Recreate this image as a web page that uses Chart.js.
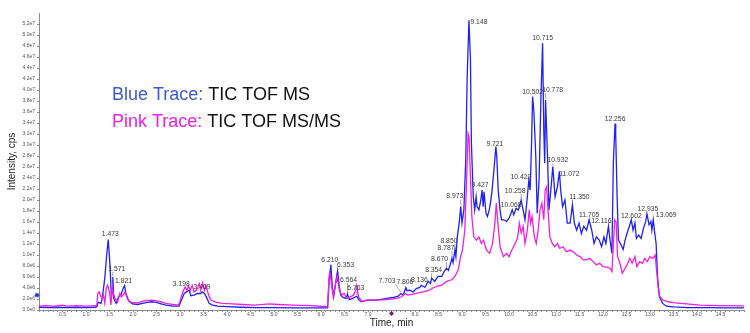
<!DOCTYPE html>
<html>
<head>
<meta charset="utf-8">
<title>TIC TOF MS</title>
<script src="https://cdn.jsdelivr.net/npm/chart.js@4.4.1/dist/chart.umd.min.js"></script>
<style>
  html, body { margin: 0; background: #fff; }
  #wrap { width: 750px; height: 333px; }
</style>
</head>
<body>
<div id="wrap"><canvas id="tic" width="750" height="333"></canvas></div>
<script>
// retention time (min) and intensity (1e6 cps) for the TOF MS trace
const blueTime = [
  0.0, 0.2, 0.4, 0.6, 0.8, 1.0, 1.2, 1.23, 1.26, 1.3,
  1.32, 1.35, 1.4, 1.44, 1.473, 1.51, 1.54, 1.56, 1.571, 1.59,
  1.64, 1.69, 1.74, 1.79, 1.821, 1.85, 1.91, 1.99, 2.1, 2.2,
  2.3, 2.4, 2.5, 2.6, 2.7, 2.85, 2.98, 3.03, 3.09, 3.14,
  3.198, 3.23, 3.3, 3.37, 3.44, 3.469, 3.52, 3.57, 3.62, 3.69,
  3.8, 4.0, 4.3, 4.6, 5.0, 5.4, 5.8, 6.14, 6.175, 6.21,
  6.24, 6.27, 6.32, 6.353, 6.39, 6.42, 6.47, 6.53, 6.564, 6.6,
  6.67, 6.763, 6.8, 6.86, 6.97, 7.11, 7.25, 7.4, 7.54, 7.64,
  7.703, 7.75, 7.806, 7.83, 7.89, 7.96, 8.03, 8.1, 8.136, 8.21,
  8.28, 8.33, 8.354, 8.42, 8.49, 8.57, 8.62, 8.67, 8.71, 8.74,
  8.787, 8.81, 8.85, 8.87, 8.9, 8.94, 8.973, 9.0, 9.04, 9.08,
  9.11, 9.148, 9.18, 9.2, 9.24, 9.27, 9.3, 9.32, 9.36, 9.4,
  9.427, 9.45, 9.47, 9.51, 9.54, 9.58, 9.61, 9.64, 9.68, 9.721,
  9.74, 9.77, 9.81, 9.84, 9.89, 9.95, 10.0, 10.03, 10.068, 10.1,
  10.15, 10.2, 10.258, 10.3, 10.34, 10.37, 10.422, 10.45, 10.48, 10.502,
  10.53, 10.57, 10.6, 10.64, 10.68, 10.715, 10.74, 10.76, 10.778, 10.82,
  10.85, 10.89, 10.932, 10.98, 11.03, 11.072, 11.1, 11.14, 11.19, 11.24,
  11.3, 11.35, 11.39, 11.44, 11.49, 11.54, 11.59, 11.65, 11.705, 11.76,
  11.81, 11.86, 11.92, 11.97, 12.02, 12.06, 12.116, 12.15, 12.19, 12.22,
  12.256, 12.27, 12.3, 12.33, 12.37, 12.43, 12.47, 12.51, 12.57, 12.602,
  12.64, 12.68, 12.71, 12.76, 12.81, 12.86, 12.91, 12.935, 12.98, 13.02,
  13.04, 13.069, 13.1, 13.13, 13.16, 13.2, 13.27, 13.35, 13.5, 13.8,
  14.2, 14.6, 15.0
];
const blueInt = [
  0.5, 0.45, 0.5, 0.45, 0.5, 0.45, 0.5, 0.6, 1.4, 1.3,
  1.2, 2.4, 5.8, 10.0, 12.8, 8.2, 2.4, 3.3, 6.0, 2.1,
  1.2, 2.4, 2.7, 3.9, 4.4, 3.0, 1.6, 1.1, 1.0, 1.2,
  1.4, 1.5, 1.4, 1.1, 0.9, 0.7, 0.7, 1.8, 3.0, 3.3,
  3.6, 2.6, 2.7, 3.0, 3.0, 3.3, 3.0, 2.2, 1.2, 0.9,
  0.7, 0.6, 0.5, 0.45, 0.45, 0.4, 0.4, 0.4, 5.5, 8.2,
  4.2, 2.4, 5.5, 7.1, 4.2, 2.7, 2.3, 2.1, 2.9, 1.9,
  2.1, 2.5, 1.9, 1.5, 1.8, 1.8, 1.9, 2.1, 2.3, 2.5,
  3.0, 2.7, 4.1, 3.5, 3.6, 3.3, 3.9, 4.1, 4.5, 4.1,
  5.2, 4.8, 5.8, 5.2, 6.1, 6.1, 7.0, 7.6, 7.2, 8.0,
  9.4, 8.6, 10.9, 9.7, 13.3, 15.8, 18.8, 15.8, 18.2, 27.3,
  42.4, 52.7, 45.5, 30.3, 20.6, 18.2, 20.6, 18.8, 18.2, 20.0,
  21.8, 18.8, 21.5, 17.6, 17.0, 18.2, 19.7, 21.8, 25.5, 29.7,
  27.9, 21.8, 18.2, 16.4, 16.4, 16.1, 16.7, 17.3, 18.2, 17.3,
  18.5, 18.2, 20.0, 18.2, 16.4, 18.8, 23.6, 21.8, 30.3, 38.8,
  36.0, 27.9, 17.6, 23.6, 38.8, 48.5, 32.7, 26.7, 38.2, 27.9,
  18.2, 21.8, 26.1, 20.6, 22.4, 25.2, 21.8, 18.8, 20.0, 15.8,
  15.8, 19.1, 15.8, 14.5, 15.8, 13.9, 15.2, 14.5, 16.4, 14.5,
  12.1, 13.3, 12.7, 11.5, 13.3, 12.1, 15.2, 12.7, 10.3, 26.7,
  33.9, 32.1, 20.6, 12.7, 12.1, 11.0, 12.7, 13.9, 15.5, 16.4,
  14.5, 15.8, 13.0, 13.6, 13.0, 14.8, 16.1, 17.5, 15.5, 16.1,
  14.5, 16.4, 14.0, 12.1, 6.1, 2.4, 1.2, 0.7, 0.55, 0.45,
  0.42, 0.4, 0.4
];

// retention time (min) and intensity (1e6 cps) for the TOF MS/MS trace
const pinkTime = [
  0.0, 0.15, 0.3, 0.5, 0.6, 0.8, 1.0, 1.2, 1.23, 1.25,
  1.28, 1.32, 1.35, 1.37, 1.4, 1.43, 1.46, 1.5, 1.53, 1.56,
  1.58, 1.62, 1.67, 1.72, 1.75, 1.8, 1.83, 1.89, 1.96, 2.1,
  2.25, 2.4, 2.55, 2.7, 2.85, 2.97, 3.0, 3.06, 3.11, 3.15,
  3.18, 3.22, 3.26, 3.3, 3.35, 3.41, 3.44, 3.48, 3.52, 3.55,
  3.61, 3.66, 3.77, 3.91, 4.12, 4.33, 4.6, 4.9, 5.1, 5.4,
  5.8, 6.14, 6.175, 6.19, 6.23, 6.26, 6.32, 6.34, 6.39, 6.44,
  6.49, 6.55, 6.62, 6.69, 6.74, 6.76, 6.8, 6.86, 7.0, 7.18,
  7.4, 7.61, 7.71, 7.79, 7.85, 7.96, 8.07, 8.17, 8.28, 8.38,
  8.49, 8.57, 8.67, 8.78, 8.85, 8.92, 8.97, 9.01, 9.06, 9.1,
  9.13, 9.15, 9.18, 9.21, 9.25, 9.31, 9.36, 9.41, 9.46, 9.52,
  9.59, 9.65, 9.7, 9.73, 9.77, 9.81, 9.88, 9.95, 10.0, 10.06,
  10.13, 10.18, 10.22, 10.26, 10.3, 10.34, 10.39, 10.43, 10.46, 10.49,
  10.54, 10.58, 10.62, 10.66, 10.7, 10.74, 10.77, 10.8, 10.83, 10.87,
  10.92, 10.97, 11.03, 11.08, 11.15, 11.22, 11.3, 11.37, 11.44, 11.51,
  11.58, 11.65, 11.72, 11.79, 11.86, 11.93, 12.0, 12.08, 12.15, 12.19,
  12.22, 12.25, 12.28, 12.31, 12.36, 12.41, 12.47, 12.51, 12.57, 12.62,
  12.68, 12.72, 12.78, 12.84, 12.89, 12.94, 13.0, 13.06, 13.11, 13.14,
  13.18, 13.21, 13.28, 13.39, 13.53, 13.78, 14.06, 14.49, 15.0
];
const pinkInt = [
  0.7, 0.8, 0.7, 0.9, 0.7, 0.8, 0.7, 0.8, 0.8, 3.0,
  3.3, 2.4, 2.2, 2.7, 1.2, 3.9, 4.5, 3.3, 0.9, 4.2,
  3.0, 2.1, 1.4, 3.0, 2.4, 2.8, 3.3, 1.9, 1.4, 1.3,
  1.7, 1.8, 1.6, 1.2, 1.0, 0.9, 1.6, 3.3, 4.2, 3.6,
  4.4, 3.6, 4.5, 3.3, 3.6, 4.8, 3.6, 4.9, 3.6, 4.5,
  2.7, 1.8, 1.4, 1.2, 1.1, 1.0, 0.9, 1.1, 1.0, 0.9,
  0.8, 0.6, 6.4, 7.0, 4.2, 2.4, 5.2, 6.4, 3.6, 2.7,
  3.0, 2.1, 2.4, 2.7, 3.6, 4.4, 2.4, 1.6, 1.8, 1.8,
  1.9, 2.1, 2.4, 3.0, 2.7, 2.9, 3.1, 3.3, 3.5, 4.0,
  4.4, 4.5, 5.2, 5.5, 6.1, 7.3, 9.7, 10.9, 14.5, 24.2,
  32.1, 31.5, 24.2, 17.0, 13.3, 12.7, 13.3, 12.1, 12.7, 10.9,
  10.3, 12.1, 15.8, 19.4, 15.2, 11.5, 9.7, 10.3, 9.7, 10.9,
  12.1, 13.0, 15.8, 14.0, 15.2, 12.1, 14.5, 18.2, 15.8, 17.0,
  13.3, 12.1, 14.5, 18.2, 19.4, 16.4, 21.8, 22.4, 18.2, 13.3,
  12.1, 11.5, 12.1, 11.2, 11.5, 10.6, 10.9, 10.6, 10.0, 9.7,
  9.1, 9.1, 9.4, 8.8, 8.2, 8.5, 7.9, 7.8, 7.6, 7.0,
  11.5, 16.4, 16.0, 9.7, 8.5, 6.7, 7.6, 8.2, 9.4, 8.5,
  9.7, 7.9, 8.8, 8.5, 9.4, 8.8, 9.7, 9.4, 10.0, 7.3,
  3.6, 2.4, 1.8, 1.5, 1.3, 1.1, 0.9, 0.8, 0.75
];

// labelled apexes on the TOF MS trace (min)
const peakTimes = [
  1.473, 1.571, 1.821, 3.198, 3.469, 6.210, 6.353, 6.564, 6.763, 7.703,
  7.806, 8.136, 8.354, 8.670, 8.787, 8.850, 8.973, 9.148, 9.427, 9.721,
  10.068, 10.258, 10.422, 10.502, 10.715, 10.778, 10.932, 11.072, 11.350,
  11.705, 12.116, 12.256, 12.602, 12.935, 13.069
];

// label shifts (px) so crowded apex labels don't collide
const labelNudge = {
  '1.473': [2, 0], '1.571': [4, -3], '1.821': [-1, 0], '3.198': [-8, -1],
  '6.210': [-1, 0], '6.353': [8, -1], '6.564': [1, -9], '6.763': [-1, -3],
  '7.703': [-14, -7], '7.806': [-1, 0], '8.136': [-2, 0], '8.354': [2, -3],
  '8.670': [-7, -4], '8.787': [-6, -5], '8.850': [-6, -4], '8.973': [-6, -5],
  '9.148': [10, 7], '9.427': [-2, 0], '9.721': [-1, 2], '10.068': [-1, 0],
  '10.258': [-6, -4], '10.422': [-8, 2], '10.502': [0, 1], '10.778': [7, -5],
  '10.932': [5, -1], '11.072': [10, 8], '11.350': [7, -3], '12.116': [-7, 0],
  '12.256': [0, 1], '12.602': [0, 1], '12.935': [1, 0], '13.069': [13, 0]
};

const yTickMax = 5.2e7;
const xTickMax = 14.5;
const thresholdCps = 2.7e6;   // blue marker on the intensity axis
const cursorTime = 7.5;       // purple marker on the time axis

const BLUE = '#1f22f2';
const PINK = '#f21fe0';
const FONT = '"Liberation Sans", Arial, sans-serif';

const toPoints = (ts, vs) => ts.map((t, k) => ({ x: t, y: vs[k] * 1e6 }));

function star(ctx, cx, cy, r, color) {
  ctx.save();
  ctx.fillStyle = color;
  ctx.beginPath();
  for (let k = 0; k < 16; k++) {
    const a = k * Math.PI / 8 - Math.PI / 2;
    const rr = k % 2 ? r * 0.45 : r;
    ctx.lineTo(cx + rr * Math.cos(a), cy + rr * Math.sin(a));
  }
  ctx.closePath();
  ctx.fill();
  ctx.restore();
}

const peakLabels = {
  id: 'peakLabels',
  afterDatasetsDraw(chart) {
    const { ctx, scales: { x, y } } = chart;
    ctx.save();
    ctx.font = '6.8px ' + FONT;
    ctx.textAlign = 'center';
    ctx.textBaseline = 'middle';
    ctx.fillStyle = '#3a3a3a';
    ctx.strokeStyle = '#666';
    ctx.lineWidth = 0.6;
    peakTimes.forEach(t => {
      const txt = t.toFixed(3);
      const k = blueTime.indexOf(t);
      const px = x.getPixelForValue(t);
      const py = y.getPixelForValue(blueInt[k] * 1e6);
      const [dx, dy] = labelNudge[txt] || [0, 0];
      const lx = px + dx, ly = py - 5 + dy;
      const w = ctx.measureText(txt).width;
      const sx = Math.min(Math.max(px, lx - w / 2), lx + w / 2);
      const sy = ly + 3;
      if (py - 1 > sy + 1.5) {
        ctx.beginPath();
        ctx.moveTo(sx, sy);
        ctx.lineTo(px, py - 1);
        ctx.stroke();
      }
      ctx.fillText(txt, lx, ly);
    });
    ctx.restore();
  }
};

const decorations = {
  id: 'decorations',
  afterDraw(chart) {
    const { ctx, chartArea: a, scales: { x, y } } = chart;
    ctx.save();

    // axis titles
    ctx.fillStyle = '#222';
    ctx.font = '10px ' + FONT;
    ctx.textAlign = 'center';
    ctx.textBaseline = 'middle';
    ctx.fillText('Time, min', (a.left + a.right) / 2, 323);
    ctx.save();
    ctx.translate(12, (a.top + a.bottom) / 2);
    ctx.rotate(-Math.PI / 2);
    ctx.fillText('Intensity, cps', 0, 0);
    ctx.restore();

    // trace key
    ctx.font = '18px ' + FONT;
    ctx.textAlign = 'left';
    [['Blue Trace:', '#3a5ad4', ' TIC TOF MS', 95],
     ['Pink Trace:', '#e81ee8', ' TIC TOF MS/MS', 122]].forEach(([head, col, rest, ty]) => {
      ctx.fillStyle = col;
      ctx.fillText(head, 112, ty);
      ctx.fillStyle = '#111';
      ctx.fillText(rest, 112 + ctx.measureText(head).width, ty);
    });

    // markers
    star(ctx, a.left - 2, y.getPixelForValue(thresholdCps), 3.2, '#1a2bd0');
    star(ctx, x.getPixelForValue(cursorTime), a.bottom + 3.5, 3.2, '#7a1a78');
    ctx.restore();
  }
};

new Chart(document.getElementById('tic'), {
  type: 'line',
  data: {
    datasets: [
      { label: 'TIC TOF MS/MS', data: toPoints(pinkTime, pinkInt), borderColor: PINK, order: 0 },
      { label: 'TIC TOF MS', data: toPoints(blueTime, blueInt), borderColor: BLUE, order: 1 }
    ]
  },
  options: {
    responsive: false,
    animation: false,
    devicePixelRatio: 1,
    layout: { padding: { top: 13, right: 6, left: 0, bottom: 0 } },
    elements: {
      line: { borderWidth: 1.3, tension: 0 },
      point: { radius: 0 }
    },
    plugins: { legend: { display: false }, tooltip: { enabled: false } },
    scales: {
      x: {
        type: 'linear',
        min: 0,
        max: 15,
        afterFit: s => { s.height = 23; },
        border: { color: '#8a8a8a' },
        grid: { drawOnChartArea: false, tickLength: 2, color: '#8a8a8a' },
        ticks: {
          stepSize: 0.1,
          autoSkip: false,
          maxRotation: 0,
          padding: 0,
          color: '#555',
          font: { size: 5, family: FONT },
          callback: v => {
            const r = Math.round(v * 10);
            if (r === 0 || r % 5 !== 0 || v > xTickMax || r === Math.round(cursorTime * 10)) return '';
            return v.toFixed(1);
          }
        }
      },
      y: {
        min: 0,
        max: 5.4e7,
        afterFit: s => { s.width = 39; },
        afterBuildTicks: s => { s.ticks = s.ticks.filter(t => t.value <= yTickMax); },
        border: { color: '#8a8a8a' },
        grid: { drawOnChartArea: false, tickLength: 2, color: '#8a8a8a' },
        ticks: {
          stepSize: 2e6,
          autoSkip: false,
          padding: 2,
          color: '#555',
          font: { size: 5, family: FONT },
          callback: v => v.toExponential(1).replace('e+', 'e')
        }
      }
    }
  },
  plugins: [peakLabels, decorations]
});
</script>
</body>
</html>
